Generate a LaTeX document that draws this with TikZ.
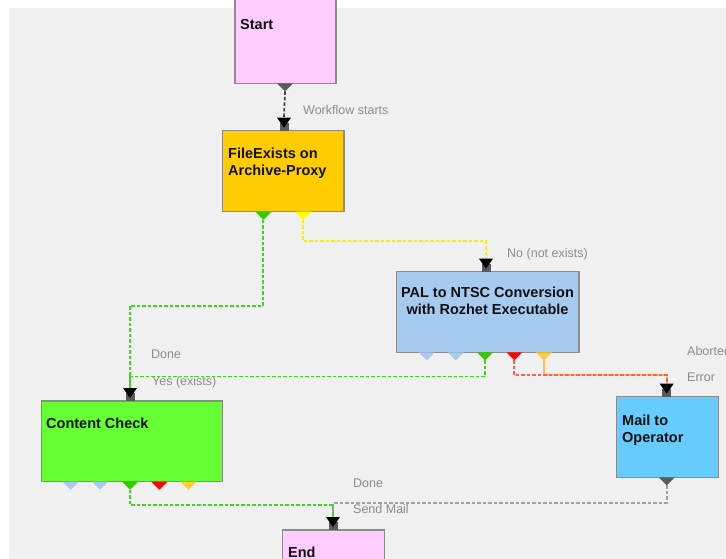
\documentclass[tikz,border=0pt]{standalone}
\usepackage{fontspec}
\setmainfont{Liberation Sans}
\definecolor{bg}{HTML}{F0F0F0}
\definecolor{boxline}{HTML}{8C8C8C}
\definecolor{pinkbox}{HTML}{FFCCFF}
\definecolor{febox}{HTML}{FFCC00}
\definecolor{palbox}{HTML}{A6CAF0}
\definecolor{mailbox}{HTML}{66CCFF}
\definecolor{ccbox}{HTML}{66FF33}
\definecolor{portblue}{HTML}{A6CAF0}
\definecolor{portgreen}{HTML}{33CC00}
\definecolor{portred}{HTML}{FF0000}
\definecolor{portorange}{HTML}{FFCC33}
\definecolor{portyellow}{HTML}{FFFF00}
\definecolor{portgray}{HTML}{5A5A5A}
\definecolor{lgreen}{HTML}{3CD81E}
\definecolor{lyellow}{HTML}{F8F000}
\definecolor{lred}{HTML}{FF5C5C}
\definecolor{lorange}{HTML}{FFC050}
\definecolor{lgray}{HTML}{A0A0A0}
\definecolor{ldark}{HTML}{404040}
\definecolor{lbl}{HTML}{8C8C8C}
\definecolor{ttl}{HTML}{111111}
\newcommand\outport[4]{%
  \fill[#4] (#2-8,#3) -- (#2+8,#3) -- (#2,#3+8) -- cycle;
  \coordinate (#1) at (#2,#3+8);}
\newcommand\inport[3]{%
  \fill[portgray] (#2-4.5,#3-8) rectangle (#2+4.5,#3);
  \fill[black] (#2-7,#3-13) -- (#2+7,#3-13) -- (#2,#3-3) -- cycle;
  \coordinate (#1) at (#2,#3-13);}
\begin{document}
\begin{tikzpicture}[x=1pt,y=-1pt,
  box/.style={draw=boxline, line width=1.4pt, inner sep=0pt, outer sep=0pt, anchor=north west},
  ttlfont/.style={font=\fontsize{14.5}{17}\selectfont\bfseries, text=ttl, inner sep=0pt},
  lblfont/.style={font=\fontsize{12.5}{15}\selectfont, text=lbl, inner sep=0pt, anchor=base west},
  conn/.style={line width=1.7pt, dash pattern=on 3.5pt off 2pt}]
\useasboundingbox (0,0) rectangle (726,559);
\fill[white] (0,0) rectangle (726,559);
\fill[bg] (9,8) rectangle (726,559);

% boxes
\node[box, fill=pinkbox, minimum width=101pt, minimum height=88.3pt] (start) at (235,-5) {};
\node[box, fill=febox, minimum width=121.3pt, minimum height=81pt] (fe) at (222.7,130.7) {};
\node[box, fill=palbox, minimum width=182.3pt, minimum height=80.6pt] (pal) at (396.7,271.7) {};
\node[box, fill=mailbox, minimum width=101.6pt, minimum height=80.6pt] (mail) at (616.7,396.7) {};
\node[box, fill=ccbox, minimum width=180.6pt, minimum height=80.7pt] (cc) at (41.7,401) {};
\node[box, fill=pinkbox, minimum width=101.6pt, minimum height=40pt] (end) at (282.7,530) {};

% titles
\node[ttlfont, anchor=base west] (start-t) at (240,30) {Start};
\node[ttlfont, anchor=north west, align=left] (fe-t) at (228,147.4) {FileExists on\\Archive-Proxy};
\node[ttlfont, anchor=north, align=center] (pal-t) at (487.5,286.4) {PAL to NTSC Conversion\\with Rozhet Executable};
\node[ttlfont, anchor=north west, align=left] (mail-t) at (622,414.4) {Mail to\\Operator};
\node[ttlfont, anchor=base west] (cc-t) at (46,428) {Content Check};
\node[ttlfont, anchor=base west] (end-t) at (288,557) {End};

% connectors
\coordinate (start-o) at (285,91.3);
\coordinate (fe-g) at (263.3,219.7);
\coordinate (fe-y) at (303.3,219.7);
\coordinate (pal-g) at (485,360.3);
\coordinate (pal-r) at (514.3,360.3);
\coordinate (pal-o) at (544,360.3);
\coordinate (cc-g) at (130,489.7);
\coordinate (mail-o) at (666.7,485.3);
\coordinate (fe-in) at (284,117.7);
\coordinate (pal-in) at (486,258.7);
\coordinate (mail-in) at (666.7,383.7);
\coordinate (cc-in) at (130,388);
\coordinate (end-in) at (333,517);

\draw[conn, ldark] (start-o) -- (fe-in);
\draw[conn, lgreen] (fe-g) -- ++(0,86) -| (cc-in);
\draw[conn, lyellow] (fe-y) -- ++(0,21.5) -| (pal-in);
\draw[conn, lgreen] (pal-g) -- ++(0,16.2) -| (cc-in);
\draw[conn, lorange, dash pattern=on 6pt off 0pt] (pal-o) -- ++(0,15) -| (mail-in);
\draw[conn, lred] (pal-r) -- ++(0,15) -| (mail-in);
\draw[conn, lgray] (mail-o) -- ++(0,17.5) -| (end-in);
\draw[conn, lgreen] (cc-g) -- ++(0,15.3) -| (end-in);

% ports
\outport{start-op}{285}{83.3}{portgray}
\outport{fe-gp}{263.3}{211.7}{portgreen}
\outport{fe-yp}{303.3}{211.7}{portyellow}
\outport{pal-b1}{426.7}{352.3}{portblue}
\outport{pal-b2}{455.7}{352.3}{portblue}
\outport{pal-gp}{485}{352.3}{portgreen}
\outport{pal-rp}{514.3}{352.3}{portred}
\outport{pal-op}{544}{352.3}{portorange}
\outport{cc-b1}{70.7}{481.7}{portblue}
\outport{cc-b2}{100}{481.7}{portblue}
\outport{cc-gp}{130}{481.7}{portgreen}
\outport{cc-r}{159.3}{481.7}{portred}
\outport{cc-o}{188.3}{481.7}{portorange}
\outport{mail-op}{666.7}{477.3}{portgray}

\inport{fe-ip}{284}{130.7}
\inport{pal-ip}{486}{271.7}
\inport{mail-ip}{666.7}{396.7}
\inport{cc-ip}{130}{401}
\inport{end-ip}{333}{530}

% labels
\node[lblfont] (l-wf) at (303,115) {Workflow starts};
\node[lblfont] (l-no) at (507,257) {No (not exists)};
\node[lblfont] (l-done1) at (151,358) {Done};
\node[lblfont] (l-yes) at (152,385) {Yes (exists)};
\node[lblfont] (l-ab) at (687,355) {Aborted};
\node[lblfont] (l-err) at (687,381) {Error};
\node[lblfont] (l-done2) at (353,487) {Done};
\node[lblfont] (l-send) at (353,513) {Send Mail};
\end{tikzpicture}
\end{document}
